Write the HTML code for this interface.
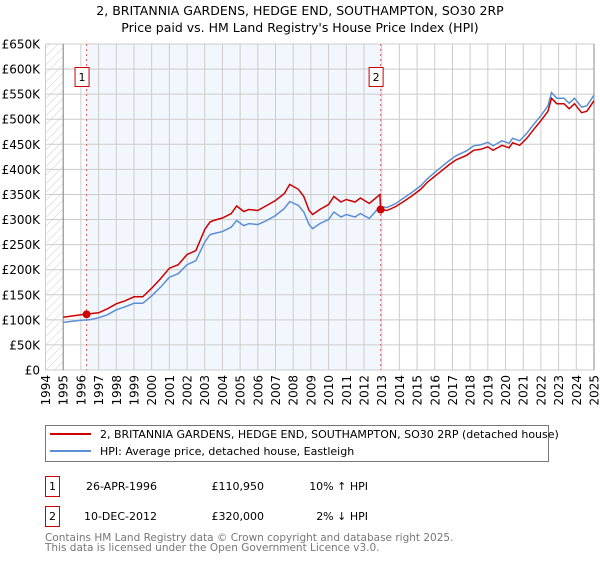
<!DOCTYPE html>
<html><head><meta charset="utf-8"><style>
body{margin:0;background:#fff;width:600px;height:560px;overflow:hidden;font-family:"DejaVu Sans","Liberation Sans",sans-serif;}
svg text{font-family:"DejaVu Sans","Liberation Sans",sans-serif;}
</style></head><body>
<svg id="c" width="600" height="560" xmlns="http://www.w3.org/2000/svg">
<defs><pattern id="hatch" width="6" height="6" patternUnits="userSpaceOnUse" patternTransform="rotate(45)"><line x1="0" y1="0" x2="0" y2="6" stroke="#ccc" stroke-width="1"/></pattern></defs>
<text x="300" y="15" text-anchor="middle" font-size="12.5">2, BRITANNIA GARDENS, HEDGE END, SOUTHAMPTON, SO30 2RP</text>
<text x="300" y="32" text-anchor="middle" font-size="12.5">Price paid vs. HM Land Registry's House Price Index (HPI)</text>
<g id="plot"></g>
<g>
<rect x="45.5" y="425.5" width="503" height="36" fill="#fff" stroke="#777"/>
<line x1="50" y1="434" x2="91" y2="434" stroke="#cc0000" stroke-width="2"/>
<text x="100" y="438" font-size="11">2, BRITANNIA GARDENS, HEDGE END, SOUTHAMPTON, SO30 2RP (detached house)</text>
<line x1="50" y1="451" x2="91" y2="451" stroke="#5b8fd4" stroke-width="2"/>
<text x="100" y="455" font-size="11">HPI: Average price, detached house, Eastleigh</text>
</g>
<g font-size="11">
<rect x="45.5" y="476.5" width="14" height="20" fill="#fff" stroke="#cc0000"/>
<text x="52.5" y="490" text-anchor="middle">1</text>
<text x="157" y="490" text-anchor="end">26-APR-1996</text>
<text x="264" y="490" text-anchor="end">£110,950</text>
<text x="368" y="490" text-anchor="end">10% ↑ HPI</text>
<rect x="45.5" y="506.5" width="14" height="20" fill="#fff" stroke="#cc0000"/>
<text x="52.5" y="520" text-anchor="middle">2</text>
<text x="157" y="520" text-anchor="end">10-DEC-2012</text>
<text x="264" y="520" text-anchor="end">£320,000</text>
<text x="368" y="520" text-anchor="end">2% ↓ HPI</text>
</g>
<text x="45" y="541" font-size="10.5" fill="#777">Contains HM Land Registry data © Crown copyright and database right 2025.</text>
<text x="45" y="551" font-size="10.5" fill="#777">This data is licensed under the Open Government Licence v3.0.</text>
</svg>
<script>
const hpiYears=[1995,1996,1996.5,1997,1997.5,1998,1998.5,1999,1999.5,2000,2000.5,2001,2001.5,2002,2002.5,2003,2003.3,2003.5,2004,2004.5,2004.8,2005.2,2005.5,2006,2006.5,2007,2007.5,2007.8,2008.3,2008.6,2008.9,2009.1,2009.5,2010,2010.3,2010.7,2011,2011.5,2011.8,2012.3,2012.9,2013.3,2013.8,2014.2,2014.7,2015.2,2015.6,2016.2,2016.8,2017.2,2017.8,2018.2,2018.6,2019,2019.3,2019.8,2020.2,2020.4,2020.8,2021.2,2021.6,2022,2022.4,2022.6,2022.9,2023.3,2023.6,2023.9,2024.3,2024.6,2025];
const hpiValues=[95,99,100,104,110,120,126,133,133,148,165,185,192,210,218,255,270,272,276,285,298,288,292,290,298,308,322,336,328,315,290,282,292,300,315,305,310,305,312,302,326,324,332,342,354,367,382,400,417,427,437,447,449,454,447,457,452,462,457,472,490,507,527,553,542,542,532,542,524,527,548];
const propYears=[1995,1996,1996.32,1996.5,1997,1997.5,1998,1998.5,1999,1999.5,2000,2000.5,2001,2001.5,2002,2002.5,2003,2003.3,2003.5,2004,2004.5,2004.8,2005.2,2005.5,2006,2006.5,2007,2007.5,2007.8,2008.3,2008.6,2008.9,2009.1,2009.5,2010,2010.3,2010.7,2011,2011.5,2011.8,2012.3,2012.9,2012.94,2013.3,2013.8,2014.2,2014.7,2015.2,2015.6,2016.2,2016.8,2017.2,2017.8,2018.2,2018.6,2019,2019.3,2019.8,2020.2,2020.4,2020.8,2021.2,2021.6,2022,2022.4,2022.6,2022.9,2023.3,2023.6,2023.9,2024.3,2024.6,2025];
const propValues=[105,110,110.95,112,114,122,132,138,146,146,163,182,203,210,230,238,280,295,298,303,312,327,316,320,318,328,338,352,370,360,346,318,310,320,330,346,335,340,335,343,332,350,320,318,326,335,347,360,375,392,409,419,428,438,440,445,438,448,443,453,448,462,480,497,516,542,531,531,521,531,513,516,537];
const yTicks=[0,50,100,150,200,250,300,350,400,450,500,550,600,650];
const yTickLabels=["£0","£50K","£100K","£150K","£200K","£250K","£300K","£350K","£400K","£450K","£500K","£550K","£600K","£650K"];
const xTicks=[1994,1995,1996,1997,1998,1999,2000,2001,2002,2003,2004,2005,2006,2007,2008,2009,2010,2011,2012,2013,2014,2015,2016,2017,2018,2019,2020,2021,2022,2023,2024,2025];
const saleYears=[1996.32,2012.94];
const saleValues=[110.95,320];
const saleLabels=["1","2"];

const L=45.5,R=594,T=44,B=370;
const xs=y=>L+(y-1994)/(2025-1994)*(R-L);
const ys=v=>B-v/650*(B-T);
const NS="http://www.w3.org/2000/svg";
const g=document.getElementById('plot');
function mk(t,a){const e=document.createElementNS(NS,t);for(const k in a)e.setAttribute(k,a[k]);g.appendChild(e);return e;}
let e;
e=mk('rect',{x:L,y:T,width:xs(1995)-L,height:B-T,fill:'url(#hatch)'});


e=mk('rect',{x:xs(saleYears[0]),y:T,width:xs(saleYears[1])-xs(saleYears[0]),height:B-T,fill:'#eef3fc',opacity:0.75});


yTicks.forEach((v,i)=>{
 e=mk('line',{x1:L,x2:R,y1:ys(v),y2:ys(v),stroke:'#ccc','stroke-width':1});
 
 
 e=mk('text',{x:40,y:ys(v)+4.5,'text-anchor':'end','font-size':12});
 e.textContent=yTickLabels[i];
 
 
});
xTicks.forEach(yr=>{
 e=mk('line',{x1:xs(yr),x2:xs(yr),y1:T,y2:B,stroke:'#ccc','stroke-width':1});
 
 
 e=mk('text',{x:0,y:0,'text-anchor':'end','font-size':12,transform:`translate(${xs(yr)+4.5},375) rotate(-90)`});
 e.textContent=yr;
 
 
});
e=mk('line',{x1:xs(1995),x2:xs(1995),y1:T,y2:B,stroke:'#888','stroke-width':1});


e=mk('line',{x1:R,x2:R,y1:T,y2:B,stroke:'#888','stroke-width':1});


saleYears.forEach((yr,i)=>{
 e=mk('line',{x1:xs(yr),x2:xs(yr),y1:T,y2:B,stroke:'#e06060','stroke-width':1,'stroke-dasharray':'2,3'});
 
 
 e=mk('rect',{x:xs(yr)-11.5,y:67.5,width:14,height:19,fill:'#fff',stroke:'#cc0000'});
 
 
 e=mk('text',{x:xs(yr)-4.5,y:81,'text-anchor':'middle','font-size':11});
 e.textContent=saleLabels[i];
 
 
});
const path=(xa,va)=>xa.map((x,i)=>(i?'L':'M')+xs(x).toFixed(1)+','+ys(va[i]).toFixed(1)).join('');
e=mk('path',{d:path(hpiYears,hpiValues),fill:'none',stroke:'#5b8fd4','stroke-width':1.5});


e=mk('path',{d:path(propYears,propValues),fill:'none',stroke:'#cc0000','stroke-width':1.5});


saleYears.forEach((yr,i)=>{
 e=mk('circle',{cx:xs(yr),cy:ys(saleValues[i]),r:4,fill:'#cc0000'});
 
 
});
</script>
</body></html>
